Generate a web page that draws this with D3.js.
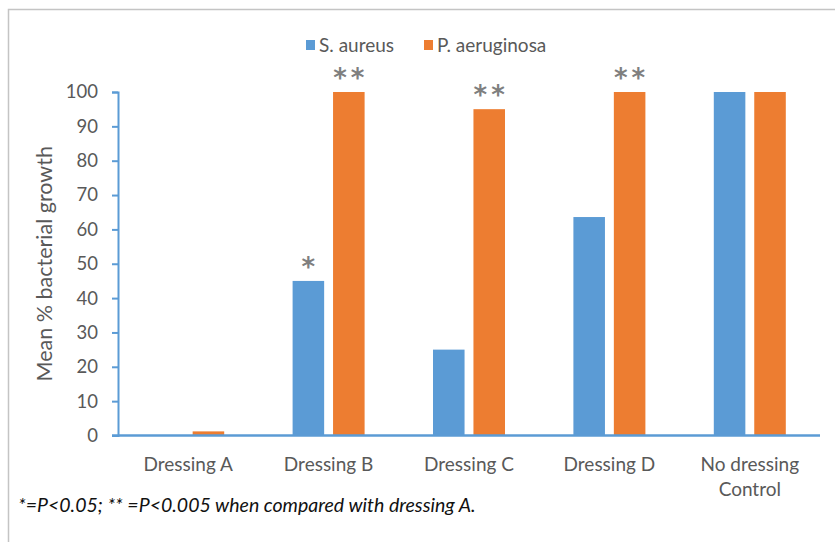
<!DOCTYPE html>
<html>
<head>
<meta charset="utf-8">
<script src="https://cdn.jsdelivr.net/npm/d3@7"></script>
<style>
  body { margin: 0; background: #fff; }
  svg { display: block; font-family: Lato, "Open Sans", sans-serif; }
</style>
</head>
<body>
<div id="app"></div>
<script>
// data
const categories = ["Dressing A", "Dressing B", "Dressing C", "Dressing D", "No dressing\nControl"]
const series = ["S. aureus", "P. aeruginosa"]
const aureus = [0, 45, 25, 63.6, 100]
const aeruginosa = [1.2, 100, 95, 100, 100]
// significance marks: [category index, series index, label]
const marks = [[1, 0, "*"], [1, 1, "**"], [2, 1, "**"], [3, 1, "**"]]
const yTicks = [0, 10, 20, 30, 40, 50, 60, 70, 80, 90, 100]
const footnote = "*=P<0.05; ** =P<0.005 when compared with dressing A."

const colors = ["#5b9bd5", "#ed7d31"]
const W = 835, H = 542
const m = { left: 118, right: 15, top: 92, bottom: 106 }

const svg = d3.select("#app").append("svg")
    .attr("width", W)
    .attr("height", H)

// chart frame
svg.append("rect")
    .attr("x", 8.5).attr("y", 9.5)
    .attr("width", W + 20).attr("height", H + 20)
    .attr("fill", "none")
    .attr("stroke", "#c4c4c4")
    .attr("stroke-width", 1.5)

const x = d3.scaleBand()
    .domain(categories)
    .range([m.left, W - m.right])

const y = d3.scaleLinear()
    .domain([0, 100])
    .range([H - m.bottom - 0.5, m.top])

const x1 = d3.scaleBand()
    .domain(series)
    .range([-36, 36])
    .paddingInner(0.22)

const rows = categories.map((c, i) => ({ cat: c, vals: [aureus[i], aeruginosa[i]] }))

// bars
const g = svg.append("g")
g.selectAll("g")
  .data(rows)
  .join("g")
    .attr("transform", d => `translate(${x(d.cat) + x.bandwidth() / 2},0)`)
  .selectAll("rect")
  .data(d => d.vals.map((v, k) => ({ s: series[k], v, k })))
  .join("rect")
    .attr("x", d => x1(d.s))
    .attr("width", x1.bandwidth())
    .attr("y", d => y(d.v))
    .attr("height", d => y(0) - y(d.v))
    .attr("fill", d => colors[d.k])

// y axis
const yAxis = svg.append("g")
    .attr("transform", `translate(${m.left},0)`)
    .call(d3.axisLeft(y).tickValues(yTicks).tickSize(6).tickPadding(14))
yAxis.select(".domain").attr("stroke", "#5b9bd5").attr("stroke-width", 2)
yAxis.selectAll(".tick line").attr("stroke", "#5b9bd5").attr("stroke-width", 2)
yAxis.selectAll(".tick text")
    .attr("fill", "#595959")
    .attr("font-size", 18.5)
    .attr("font-family", "Lato, sans-serif")

// x axis line
svg.append("line")
    .attr("x1", m.left - 6).attr("x2", W - m.right)
    .attr("y1", y(0)).attr("y2", y(0))
    .attr("stroke", "#5b9bd5")
    .attr("stroke-width", 2.5)

// x labels
const xl = svg.append("g").selectAll("text")
  .data(categories)
  .join("text")
    .attr("x", d => x(d) + x.bandwidth() / 2)
    .attr("y", 471)
    .attr("text-anchor", "middle")
    .attr("fill", "#595959")
    .attr("font-size", 19)
xl.selectAll("tspan")
  .data(d => d.split("\n"))
  .join("tspan")
    .attr("x", function () { return this.parentNode.getAttribute("x") })
    .attr("dy", (d, i) => i ? 25 : 0)
    .text(d => d)

// y title
svg.append("text")
    .attr("transform", `translate(52,${(y(0) + y(100)) / 2}) rotate(-90)`)
    .attr("text-anchor", "middle")
    .attr("fill", "#595959")
    .attr("font-size", 21.5)
    .text("Mean % bacterial growth")

// significance asterisks
svg.append("g").selectAll("text")
  .data(marks)
  .join("text")
    .attr("x", d => x(categories[d[0]]) + x.bandwidth() / 2 + x1(series[d[1]]) + x1.bandwidth() / 2 + 2)
    .attr("y", d => y([aureus, aeruginosa][d[1]][d[0]]) - 5)
    .attr("text-anchor", "middle")
    .attr("fill", "#7f7f7f")
    .attr("font-family", "DejaVu Sans, sans-serif")
    .attr("font-size", 26)
    .attr("font-weight", "bold")
    .attr("letter-spacing", 4)
    .text(d => d[2])

// legend
const leg = svg.append("g").attr("transform", "translate(306,45)")
const li = leg.selectAll("g")
  .data(series)
  .join("g")
    .attr("transform", (d, i) => `translate(${i * 118},0)`)
li.append("rect")
    .attr("y", -5).attr("width", 9).attr("height", 10)
    .attr("fill", (d, i) => colors[i])
li.append("text")
    .attr("x", 13).attr("y", 6.5)
    .attr("fill", "#595959")
    .attr("font-size", 19)
    .text(d => d)

// footnote
svg.append("text")
    .attr("x", 18).attr("y", 512)
    .attr("font-style", "italic")
    .attr("font-size", 19.5)
    .attr("fill", "#111")
    .text(footnote)
</script>
</body>
</html>
